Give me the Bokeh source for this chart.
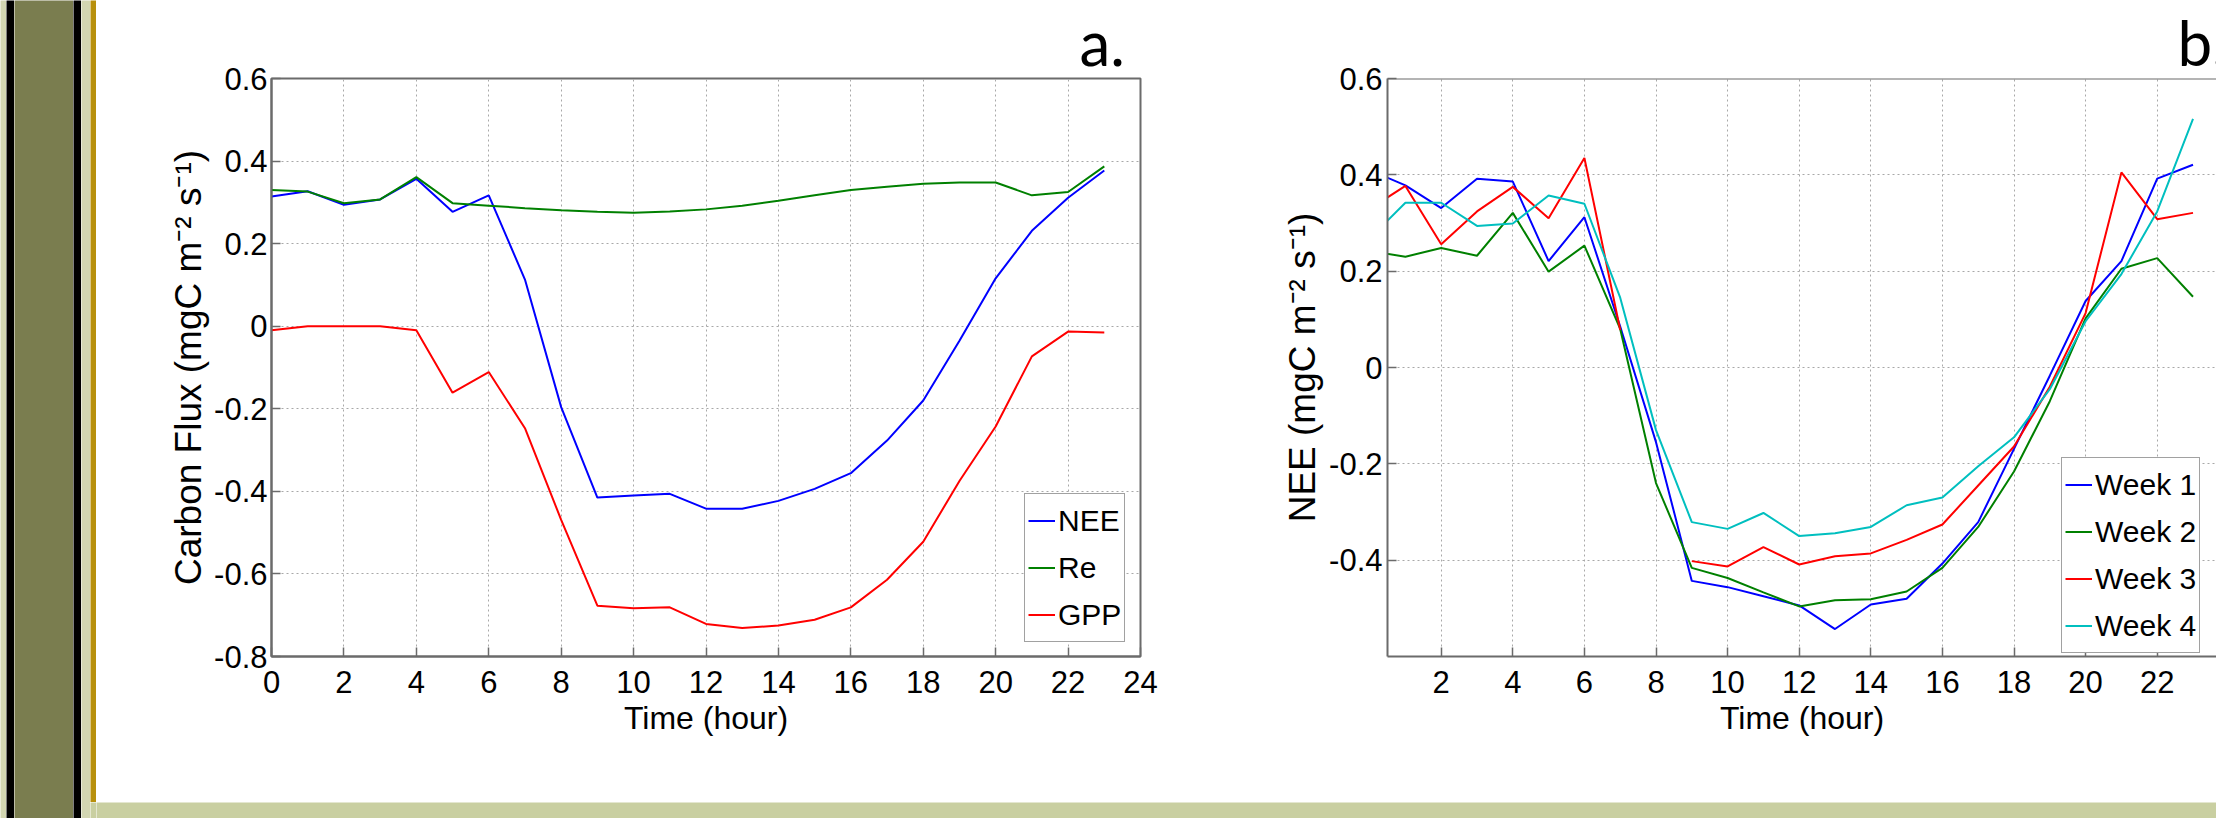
from bokeh.plotting import figure
from bokeh.layouts import row, column
from bokeh.models import Range1d, FixedTicker, LinearAxis, Legend, LegendItem, Grid, Span
from bokeh.embed import file_html
from bokeh.resources import INLINE

# ---------------- data ----------------
hours = list(range(24))

# panel a: mean diurnal carbon fluxes
nee = [0.314, 0.327, 0.294, 0.307, 0.357, 0.277, 0.317, 0.113, -0.196, -0.415,
       -0.410, -0.406, -0.442, -0.442, -0.423, -0.394, -0.356, -0.277, -0.180, -0.035,
       0.116, 0.231, 0.311, 0.377]
re_flux = [0.330, 0.326, 0.298, 0.307, 0.361, 0.298, 0.292, 0.286, 0.281, 0.277,
           0.275, 0.278, 0.283, 0.292, 0.304, 0.317, 0.330, 0.338, 0.345, 0.348,
           0.348, 0.317, 0.325, 0.387]
gpp = [-0.010, 0.000, 0.000, 0.000, -0.010, -0.161, -0.111, -0.247, -0.469, -0.677,
       -0.683, -0.681, -0.721, -0.731, -0.725, -0.711, -0.681, -0.614, -0.522, -0.375,
       -0.243, -0.073, -0.013, -0.015]

# panel b: weekly NEE
week1 = [0.410, 0.378, 0.331, 0.392, 0.386, 0.221, 0.312, 0.085, -0.155, -0.443,
         -0.456, -0.475, -0.494, -0.543, -0.492, -0.480, -0.407, -0.321, -0.169, -0.017,
         0.138, 0.221, 0.392, 0.421]
week2 = [0.242, 0.230, 0.248, 0.232, 0.321, 0.199, 0.253, 0.080, -0.240, -0.416,
         -0.437, -0.467, -0.496, -0.483, -0.481, -0.465, -0.416, -0.331, -0.216, -0.070,
         0.102, 0.205, 0.227, 0.147]
week3 = [0.329, 0.377, 0.256, 0.324, 0.375, 0.310, 0.435, 0.078, float("nan"), -0.402,
         -0.413, -0.373, -0.409, -0.392, -0.386, -0.358, -0.326, -0.245, -0.164, -0.040,
         0.113, 0.405, 0.308, 0.321]
week4 = [0.268, 0.342, 0.342, 0.294, 0.299, 0.357, 0.340, 0.145, -0.130, -0.321,
         -0.335, -0.302, -0.350, -0.344, -0.331, -0.286, -0.270, -0.205, -0.145, -0.045,
         0.096, 0.194, 0.324, 0.516]

a_xticks = [0, 2, 4, 6, 8, 10, 12, 14, 16, 18, 20, 22, 24]
a_yticks = [-0.8, -0.6, -0.4, -0.2, 0, 0.2, 0.4, 0.6]
a_ytick_labels = ["-0.8", "-0.6", "-0.4", "-0.2", "0", "0.2", "0.4", "0.6"]
b_xticks = [2, 4, 6, 8, 10, 12, 14, 16, 18, 20, 22, 24]
b_yticks = [-0.4, -0.2, 0, 0.2, 0.4, 0.6]
b_ytick_labels = ["-0.4", "-0.2", "0", "0.2", "0.4", "0.6"]

a_series = ["NEE", "Re", "GPP"]
b_series = ["Week 1", "Week 2", "Week 3", "Week 4"]

# ---------------- styles ----------------
FONT = "'Liberation Sans', Arial, sans-serif"
AXIS_COLOR = "#6b6b6b"
GRID_COLOR = "#a8a8a8"
BLUE, GREEN, RED, CYAN = "#0000ff", "#008000", "#ff0000", "#00bfbf"
BLACK = "#000000"
OLIVE = "#7a7d4f"
GOLD = "#b8900c"
BEIGE_L = "#d2d6b2"
BEIGE_B = "#c9cfa1"


def block(w, h, color):
    f = figure(width=w, height=h, toolbar_location=None, output_backend="svg",
               min_border=0, x_axis_type=None, y_axis_type=None,
               outline_line_color=None)
    f.background_fill_color = color
    f.border_fill_color = color
    return f


def make_panel(width, height, xr, yr, borders, xticks, yticks, ylabels, ylabel, tag, tag_offset):
    left, right, top, bottom = borders
    p = figure(width=width, height=height, x_range=xr, y_range=yr,
               min_border_left=left, min_border_right=right,
               min_border_top=top, min_border_bottom=bottom,
               output_backend="svg", toolbar_location=None,
               x_axis_type=None, y_axis_type=None,
               outline_line_color=AXIS_COLOR, outline_line_width=2,
               title=tag, title_location="above")
    p.background_fill_color = "white"
    p.border_fill_color = "white"
    p.title.align = "left"
    p.title.offset = tag_offset
    p.title.standoff = 0
    p.title.text_font = "Lato"
    p.title.text_font_size = "62px"
    p.title.text_font_style = "normal"
    p.title.text_color = "black"
    xt = FixedTicker(ticks=xticks)
    yt = FixedTicker(ticks=yticks)
    bx = LinearAxis(ticker=xt, axis_label="Time (hour)")
    ly = LinearAxis(ticker=yt, axis_label=ylabel,
                    major_label_overrides={v: s for v, s in zip(yticks, ylabels)})
    p.add_layout(bx, "below")
    p.add_layout(ly, "left")
    for ax in (bx, ly):
        ax.axis_line_color = AXIS_COLOR
        ax.axis_line_width = 2
        ax.major_tick_in = 9
        ax.major_tick_out = 0
        ax.minor_tick_in = 0
        ax.minor_tick_out = 0
        ax.major_tick_line_color = AXIS_COLOR
        ax.major_tick_line_width = 1.5
        ax.major_label_text_font = FONT
        ax.major_label_text_font_size = "31px"
        ax.major_label_text_color = "black"
        ax.axis_label_text_font = FONT
        ax.axis_label_text_color = "black"
        ax.axis_label_text_font_style = "normal"
    bx.major_label_standoff = 14
    bx.axis_label_standoff = 4
    bx.axis_label_text_font_size = "32px"
    ly.major_label_standoff = 4
    ly.axis_label_standoff = 2
    ly.axis_label_text_font_size = "37px"
    p.add_layout(Grid(dimension=0, ticker=xt, grid_line_color=GRID_COLOR,
                      grid_line_dash="2 3", grid_line_width=1))
    p.add_layout(Grid(dimension=1, ticker=yt, grid_line_color=GRID_COLOR,
                      grid_line_dash="2 3", grid_line_width=1))
    return p


def make_legend(items, loc):
    lg = Legend(items=items, location=loc)
    lg.label_text_font = FONT
    lg.label_text_font_size = "30px"
    lg.label_text_color = "black"
    lg.glyph_width = 27
    lg.glyph_height = 47
    lg.label_height = 47
    lg.label_standoff = 3
    lg.padding = 3
    lg.spacing = 0
    lg.margin = 0
    lg.border_line_color = "#444444"
    lg.border_line_width = 1.5
    lg.background_fill_color = "white"
    lg.background_fill_alpha = 1
    return lg


# ---------------- panel a ----------------
pa = make_panel(1170, 797, Range1d(0, 24), Range1d(-0.8, 0.6), (175, 126, 75, 141),
                a_xticks, a_yticks, a_ytick_labels,
                "Carbon Flux (mgC m\u207b\u00b2 s\u207b\u00b9)", "a.", 808)
ra = []
for ys, col in zip([nee, re_flux, gpp], [BLUE, GREEN, RED]):
    ra.append(pa.line(hours, ys, line_color=col, line_width=2))
pa.add_layout(make_legend([LegendItem(label=n, renderers=[r]) for n, r in zip(a_series, ra)],
                          (753, 14)), "center")

# ---------------- panel b ----------------
pb = make_panel(950, 797, Range1d(0.5, 23.656), Range1d(-0.6, 0.6), (121, 0, 78, 141),
                b_xticks, b_yticks, b_ytick_labels,
                "NEE (mgC m\u207b\u00b2 s\u207b\u00b9)", "b.", 790)
pb.outline_line_color = None
pb.add_layout(Span(location=0.6, dimension="width", line_color=AXIS_COLOR, line_width=2))
pb.yaxis.axis_label_standoff = 3
pb.yaxis.major_label_standoff = 5
rb = []
for ys, col in zip([week1, week2, week3, week4], [BLUE, GREEN, RED, CYAN]):
    rb.append(pb.line(hours, ys, line_color=col, line_width=2))
pb.add_layout(make_legend([LegendItem(label=n, renderers=[r]) for n, r in zip(b_series, rb)],
                          (674, 3)), "center")

# ---------------- slide decoration / layout ----------------
strip = row(
    block(6, 818, BEIGE_L),
    block(8, 818, BLACK),
    block(59, 818, OLIVE),
    block(8, 818, BLACK),
    block(9, 818, BEIGE_L),
    column(block(6, 802, GOLD), block(6, 16, BEIGE_B)),
)
main = column(row(pa, pb), block(2120, 5, GOLD), block(2120, 16, BEIGE_B))
layout = row(strip, main)

open("out.html", "w").write(file_html(layout, INLINE))
